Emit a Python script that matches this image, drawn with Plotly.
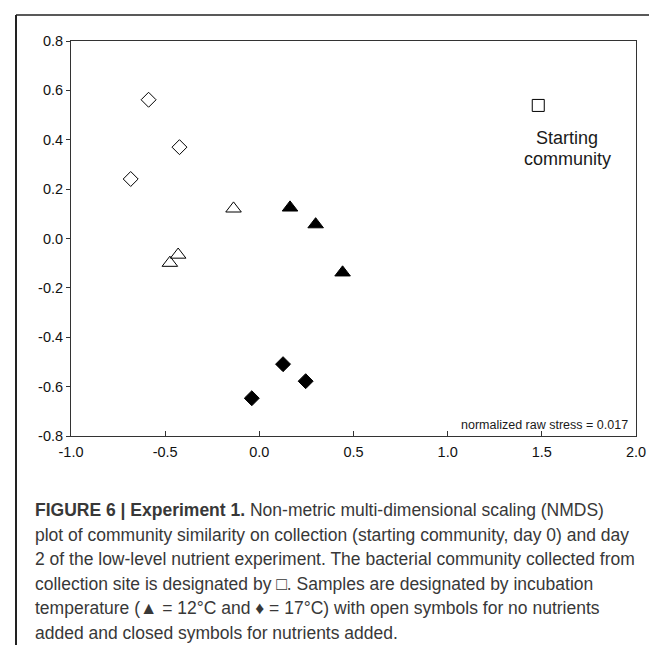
import plotly.graph_objects as go

# ---- data ----
open_tri_x = [-0.137, -0.431, -0.475]
open_tri_y = [0.121, -0.066, -0.099]
closed_tri_x = [0.163, 0.299, 0.442]
closed_tri_y = [0.125, 0.057, -0.138]
open_dia_x = [-0.588, -0.424, -0.683]
open_dia_y = [0.562, 0.370, 0.241]
closed_dia_x = [0.126, 0.246, -0.040]
closed_dia_y = [-0.509, -0.578, -0.647]
start_x = [1.481]
start_y = [0.539]

x_ticks = [-1.0, -0.5, 0.0, 0.5, 1.0, 1.5, 2.0]
y_ticks = [-0.8, -0.6, -0.4, -0.2, 0.0, 0.2, 0.4, 0.6, 0.8]

start_label = ["Starting", "community"]
stress_label = "normalized raw stress = 0.017"

caption_lines = [
    "<b>FIGURE 6 | Experiment 1.</b> Non-metric multi-dimensional scaling (NMDS)",
    "plot of community similarity on collection (starting community, day 0) and day",
    "2 of the low-level nutrient experiment. The bacterial community collected from",
    "collection site is designated by \u25a1. Samples are designated by incubation",
    "temperature (\u25b2 = 12\u00b0C and \u2666 = 17\u00b0C) with open symbols for no nutrients",
    "added and closed symbols for nutrients added.",
]

W, H = 657, 645
L, R, T, B = 63, 29, 33, 217
plot_h = H - T - B
plot_w = W - L - R

FONT = "Liberation Sans, Arial, sans-serif"

fig = go.Figure()

def add(xs, ys, sym, size):
    fig.add_trace(go.Scatter(
        x=xs, y=ys, mode="markers",
        marker=dict(symbol=sym, size=size, color="black",
                    line=dict(color="black", width=1)),
        showlegend=False, hoverinfo="skip"))

add(open_dia_x, open_dia_y, "diamond-open", 11.5)
add(closed_dia_x, closed_dia_y, "diamond", 11.5)
add(open_tri_x, open_tri_y, "triangle-up-open", 13.5)
add(closed_tri_x, closed_tri_y, "triangle-up", 13.5)
add(start_x, start_y, "square-open", 12)

for txt, yy in zip(start_label, [0.407, 0.322]):
    fig.add_annotation(x=1.634, y=yy, xref="x", yref="y",
                       text=txt, showarrow=False,
                       font=dict(family=FONT, size=18, color="#1a1a1a"),
                       xanchor="center", yanchor="middle")
fig.add_annotation(x=1.97, y=-0.757, xref="x", yref="y",
                   text=stress_label, showarrow=False,
                   font=dict(family=FONT, size=12.5, color="#1a1a1a"),
                   xanchor="right", yanchor="middle")

def py_to_paper(py):
    return (H - B - py) / plot_h

def px_to_paper(px):
    return (px - L) / plot_w

line_centers = [502, 526.5, 551, 575.5, 600, 624.5]
for txt, cy in zip(caption_lines, line_centers):
    fig.add_annotation(x=px_to_paper(25), y=py_to_paper(cy), xref="paper", yref="paper",
                       text=txt, showarrow=False, xanchor="left", yanchor="middle",
                       align="left", font=dict(family=FONT, size=17.5, color="#383838"))

# frame lines
fig.add_shape(type="line", xref="paper", yref="paper",
              x0=px_to_paper(8), x1=px_to_paper(657), y0=py_to_paper(7), y1=py_to_paper(7),
              line=dict(color="#222222", width=1.5))
fig.add_shape(type="line", xref="paper", yref="paper",
              x0=px_to_paper(8), x1=px_to_paper(8), y0=py_to_paper(7), y1=py_to_paper(646),
              line=dict(color="#222222", width=2))

fig.update_xaxes(range=[-1, 2], tickvals=x_ticks,
                 ticktext=[f"{v:.1f}" for v in x_ticks],
                 ticks="inside", ticklen=5, tickcolor="#333", tickwidth=1,
                 showline=True, linecolor="#333", linewidth=1, mirror=True,
                 showgrid=False, zeroline=False, ticklabelstandoff=3,
                 tickfont=dict(family=FONT, size=14.5, color="#111"))
fig.update_yaxes(range=[-0.8, 0.8], tickvals=y_ticks,
                 ticktext=[f"{v:.1f}" for v in y_ticks],
                 ticks="outside", ticklen=4, tickcolor="#333", tickwidth=1,
                 showline=True, linecolor="#333", linewidth=1, mirror=True,
                 showgrid=False, zeroline=False,
                 tickfont=dict(family=FONT, size=14.5, color="#111"))

fig.update_layout(width=W, height=H, margin=dict(l=L, r=R, t=T, b=B, autoexpand=False),
                  paper_bgcolor="white", plot_bgcolor="white")

fig.write_html("out.html")
